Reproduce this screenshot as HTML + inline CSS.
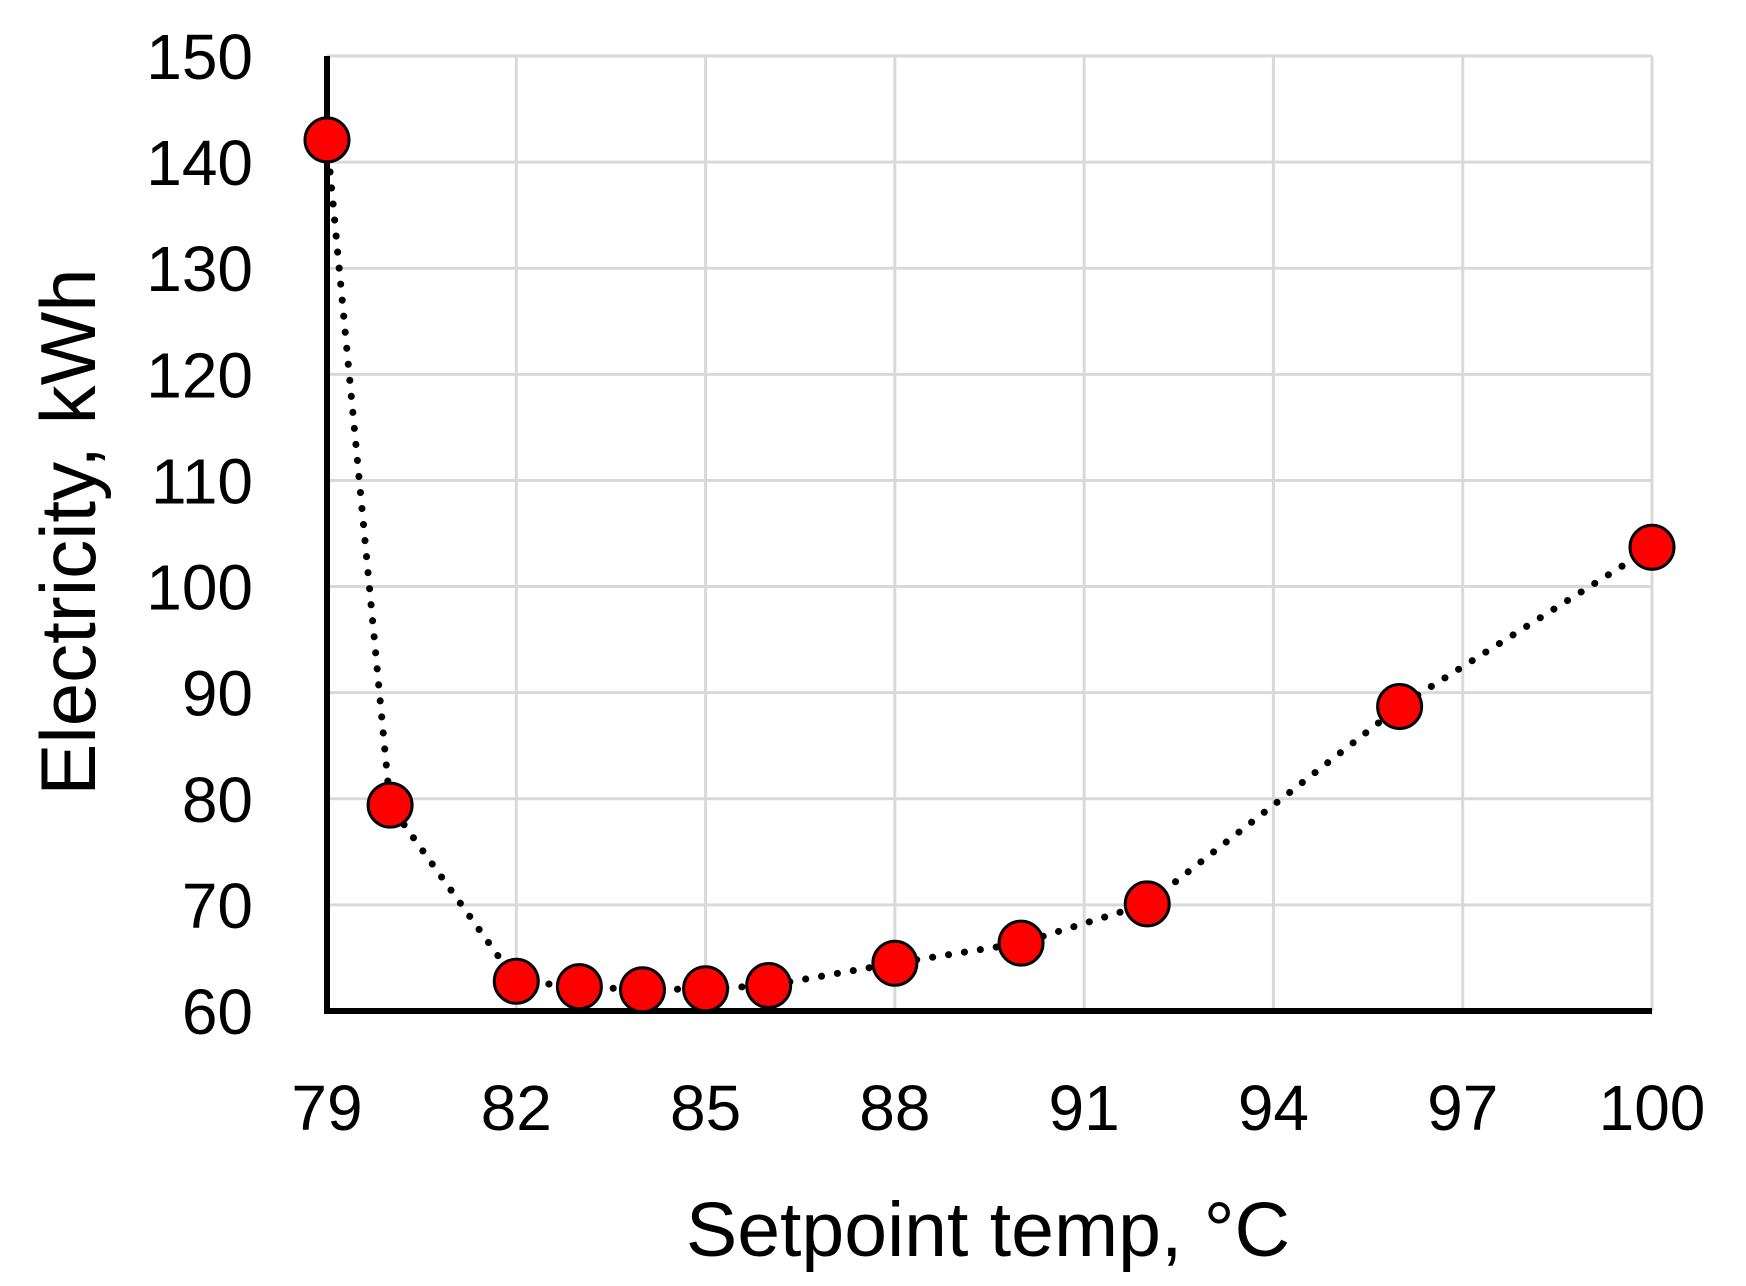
<!DOCTYPE html>
<html><head><meta charset="utf-8"><style>
html,body{margin:0;padding:0;background:#fff;}
svg text{font-family:"Liberation Sans",sans-serif;fill:#000;}
</style></head><body>
<svg id="chart" width="1746" height="1281" xmlns="http://www.w3.org/2000/svg">
<g id="grid"></g>
<g id="axes"></g>
<g id="series"></g>
<g id="labels"></g>
<text x="988" y="1256" font-size="77" text-anchor="middle">Setpoint temp, °C</text>
<text transform="translate(95,532) rotate(-90)" font-size="78" text-anchor="middle">Electricity, kWh</text>
</svg>
<script>
const temps = [79, 80, 82, 83, 84, 85, 86, 88, 90, 92, 96, 100];
const electricity = [142.1, 79.4, 62.8, 62.3, 62.0, 62.1, 62.4, 64.5, 66.4, 70.1, 88.7, 103.7];
const xTicks = [79, 82, 85, 88, 91, 94, 97, 100];
const yTicks = [60, 70, 80, 90, 100, 110, 120, 130, 140, 150];

const X0 = 327, X1 = 1652, Y0 = 1011, Y1 = 56;
const xMin = 79, xMax = 100, yMin = 60, yMax = 150;
function sx(v){ return X0 + (v - xMin) / (xMax - xMin) * (X1 - X0); }
function sy(v){ return Y0 - (v - yMin) / (yMax - yMin) * (Y0 - Y1); }
const NS = "http://www.w3.org/2000/svg";
function mk(tag, attrs, parent){
  const e = document.createElementNS(NS, tag);
  for (const k in attrs) e.setAttribute(k, attrs[k]);
  parent.appendChild(e);
  return e;
}
const grid = document.getElementById('grid');
const axes = document.getElementById('axes');
const series = document.getElementById('series');
const labels = document.getElementById('labels');

yTicks.forEach(t => {
  const l = mk('line', {x1: X0, x2: X1, y1: sy(t), y2: sy(t), stroke: '#d9d9d9', 'stroke-width': 3}, grid);
  
  
  const tx = mk('text', {x: 253, y: sy(t) + 23, 'font-size': 64, 'text-anchor': 'end'}, labels);
  tx.textContent = t;
  
  
});
xTicks.forEach(t => {
  const l = mk('line', {x1: sx(t), x2: sx(t), y1: Y1, y2: Y0, stroke: '#d9d9d9', 'stroke-width': 3}, grid);
  
  
  const tx = mk('text', {x: sx(t), y: 1130, 'font-size': 64, 'text-anchor': 'middle'}, labels);
  tx.textContent = t;
  
  
});
const ya = mk('line', {x1: X0, x2: X0, y1: Y1, y2: Y0 + 3, stroke: '#000', 'stroke-width': 6}, axes);


const xa = mk('line', {x1: X0 - 3, x2: X1, y1: Y0, y2: Y0, stroke: '#000', 'stroke-width': 6}, axes);



const pts = temps.map((t, i) => sx(t) + ',' + sy(electricity[i])).join(' ');
const pl = mk('polyline', {points: pts, fill: 'none', stroke: '#000', 'stroke-width': 7, 'stroke-dasharray': '0.1 16', 'stroke-linecap': 'round'}, series);


temps.forEach((t, i) => {
  const c = mk('circle', {cx: sx(t), cy: sy(electricity[i]), r: 22, fill: '#ff0000', stroke: '#000', 'stroke-width': 3}, series);
  
  
});
</script>
</body></html>
